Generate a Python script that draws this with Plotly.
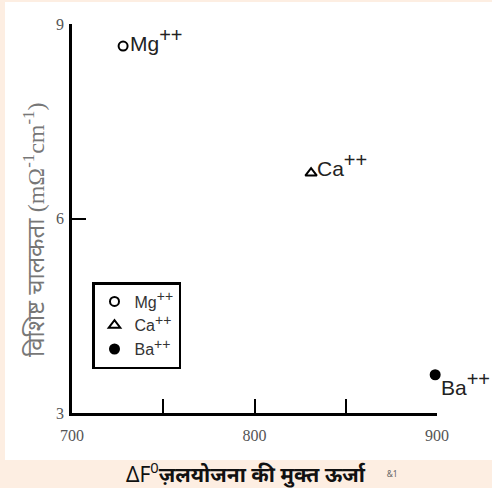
import plotly.graph_objects as go

# Data
ions = ["Mg", "Ca", "Ba"]
hydration_energy = [728, 831, 899]
conductivity = [8.66, 6.70, 3.59]
symbols = ["circle-open", "triangle-up-open", "circle"]
x_ticks = [700, 750, 800, 850, 900]
x_ticktext = ["700", "", "800", "", "900"]
y_ticks = [3, 6, 9]

W, H = 492, 488
L, R, T, B = 72, 437, 24, 413

def px(p):
    return (p - L) / (R - L)

def py(p):
    return (B - p) / (B - T)

def ion_label(ion, size):
    return f"{ion}<sup><span style='font-size:{size}px'>++</span></sup>"

fig = go.Figure()
for ion, xv, yv, sym in zip(ions, hydration_energy, conductivity, symbols):
    fig.add_trace(go.Scatter(
        x=[xv], y=[yv], mode="markers", name=ion_label(ion, 14),
        marker=dict(symbol=sym, size=9 if sym != "triangle-up-open" else 10,
                    color="black", line=dict(color="black", width=2)),
        cliponaxis=False,
    ))

label_shift = {"Mg": (5, 7), "Ca": (4, 9), "Ba": (4, -9)}
for ion, xv, yv in zip(ions, hydration_energy, conductivity):
    dx, dy = label_shift[ion]
    fig.add_annotation(x=xv, y=yv, text=ion_label(ion, 20), showarrow=False,
                       xanchor="left", yanchor="middle", xshift=dx, yshift=dy,
                       font=dict(family="Liberation Sans, Arial", size=21, color="#222"))

# white panel
fig.add_shape(type="rect", xref="paper", yref="paper",
              x0=px(5), x1=px(492), y0=py(460), y1=py(2),
              fillcolor="white", line=dict(width=0), layer="below")

# y title
fig.add_annotation(xref="paper", yref="paper", x=px(34), y=py(230),
                   text="विशिष्ट चालकता <span style='font-family:Liberation Serif'>(mΩ<sup>-1</sup>cm<sup>-1</sup>)</span>",
                   textangle=-90, showarrow=False, xanchor="center", yanchor="middle",
                   font=dict(family="Noto Sans, sans-serif", size=24, color="#777"))

# x title
fig.add_annotation(xref="paper", yref="paper", x=px(262), y=py(472),
                   text="ΔF<sup>0</sup><b>ज़लयोजना की मुक्त ऊर्जा</b>    <span style='font-size:12px;color:#666'><sup>&amp;1</sup></span>",
                   showarrow=False, xanchor="center", yanchor="middle",
                   font=dict(family="Noto Sans, sans-serif", size=21, color="#111"))

fig.update_layout(
    width=W, height=H,
    margin=dict(l=L, r=W - R, t=T, b=H - B),
    paper_bgcolor="#fdeee2", plot_bgcolor="white",
    showlegend=True,
    legend=dict(x=px(92), y=py(282), xanchor="left", yanchor="top",
                bordercolor="black", borderwidth=2.5, bgcolor="white",
                font=dict(family="Liberation Sans, Arial", size=16, color="#333"),
                itemwidth=30, tracegroupgap=7),
    xaxis=dict(range=[700, 900], tickvals=x_ticks, ticktext=x_ticktext,
               ticks="inside", ticklen=14, tickwidth=2, tickcolor="black",
               showline=True, linecolor="black", linewidth=2.5, showgrid=False,
               zeroline=False, ticklabelstandoff=6,
               tickfont=dict(family="Liberation Serif, Times New Roman", size=16, color="#555")),
    yaxis=dict(range=[3, 9], tickvals=y_ticks,
               ticks="inside", ticklen=14, tickwidth=2, tickcolor="black",
               showline=True, linecolor="black", linewidth=2.5, showgrid=False,
               zeroline=False, ticklabelstandoff=2,
               tickfont=dict(family="Liberation Serif, Times New Roman", size=16, color="#555")),
)

fig.write_html("out.html")
